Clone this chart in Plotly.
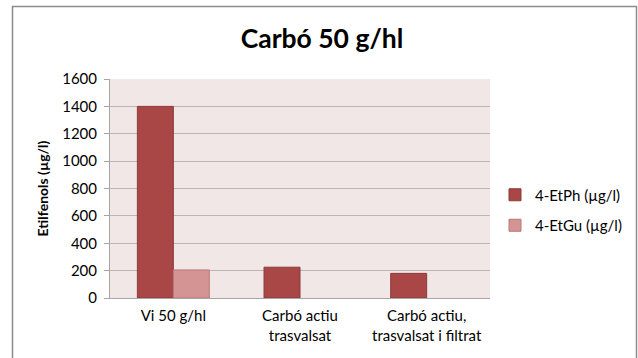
import plotly.graph_objects as go

# Etilfenols per tractament
categories = ["Vi 50 g/hl", "Carbó actiu<br>trasvalsat", "Carbó actiu,<br>trasvalsat i filtrat"]
etph = [1400, 225, 180]
etgu = [205, None, None]
y_ticks = [0, 200, 400, 600, 800, 1000, 1200, 1400, 1600]

FONT = "Lato, 'Open Sans', sans-serif"

fig = go.Figure()
fig.add_trace(go.Bar(
    x=categories, y=etph, name="4-EtPh (µg/l)",
    marker=dict(color="#A94646", line=dict(color="#8C3A3A", width=1)),
    legendgroup="a",
))
fig.add_trace(go.Bar(
    x=categories, y=etgu, name="4-EtGu (µg/l)",
    marker=dict(color="#D49494", line=dict(color="#B77878", width=1)),
    legendgroup="b",
))

W, H = 638, 358
L, R, T, B = 110, 148, 79, 60
pw, ph = W - L - R, H - T - B


def px_x(v):
    return (v - L) / pw


def px_y(v):
    return (H - B - v) / ph


fig.update_layout(
    width=W, height=H,
    margin=dict(l=L, r=R, t=T, b=B, autoexpand=False),
    paper_bgcolor="white",
    plot_bgcolor="#F2E7E7",
    barmode="group",
    bargap=0.432,
    bargroupgap=0,
    font=dict(family=FONT, size=15, color="#000000"),
    title=dict(
        text="<b>Carbó 50 g/hl</b>",
        x=px_x(322), xref="paper", xanchor="center",
        y=1 - 39 / H, yanchor="middle",
        font=dict(family=FONT, size=26.5, color="#000000"),
    ),
    showlegend=True,
    legend=dict(
        x=px_x(495), y=px_y(210), xanchor="left", yanchor="middle",
        traceorder="grouped", tracegroupgap=8,
        font=dict(family=FONT, size=15),
        bgcolor="rgba(0,0,0,0)",
        itemwidth=30,
    ),
    xaxis=dict(
        showline=True, linecolor="#A6A6A6", linewidth=1,
        ticks="", tickfont=dict(family=FONT, size=15),
        ticklabelstandoff=4, automargin=False,
        showgrid=False,
    ),
    yaxis=dict(
        range=[0, 1600], tickvals=y_ticks,
        showline=True, linecolor="#A6A6A6", linewidth=1,
        ticks="outside", ticklen=5, tickcolor="#A6A6A6",
        gridcolor="#BCB5B5", gridwidth=1,
        tickfont=dict(family=FONT, size=15),
        ticklabelstandoff=4,
        title=dict(text="<b>Etilfenols (µg/l)</b>", font=dict(family=FONT, size=14), standoff=10),
        zeroline=False, automargin=False,
    ),
    shapes=[dict(
        type="rect", xref="paper", yref="paper",
        x0=px_x(12.5), x1=px_x(636.5), y0=px_y(400), y1=px_y(6.5),
        line=dict(color="#8C8C8C", width=1.5), fillcolor="rgba(0,0,0,0)",
        layer="below",
    )],
)

fig.write_html("out.html")
